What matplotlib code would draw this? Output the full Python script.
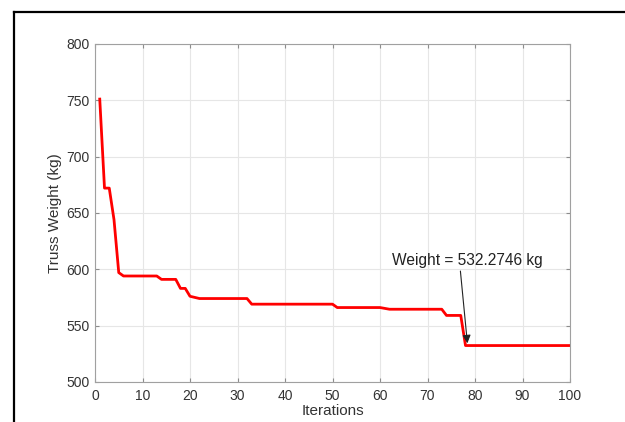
import matplotlib
matplotlib.use("Agg")
import matplotlib.pyplot as plt
from matplotlib.lines import Line2D

plt.rcParams['font.family'] = ['Liberation Sans', 'DejaVu Sans']

# convergence history
iters = [1, 2, 3, 4, 5, 6, 13, 14, 17, 18, 19, 20, 22, 32, 33, 50, 51, 60, 62, 73, 74, 77, 78, 100]
weight = [751, 672, 672, 644, 597, 594, 594, 591, 591, 583, 583, 576, 574, 574, 569, 569, 566, 566, 564.5,
          564.5, 559, 559, 532.2746, 532.2746]

best_iter = 78.4
best_w = 532.2746
label = "Weight = 532.2746 kg"

fig = plt.figure(figsize=(6.25, 4.22), dpi=100)
ax = fig.add_axes([0.152, 0.095, 0.76, 0.801])

ax.plot(iters, weight, color='#ff0000', lw=2.0)

ax.set_xlim(0, 100)
ax.set_ylim(500, 800)
ax.set_xticks(range(0, 101, 10))
ax.set_yticks(range(500, 801, 50))
ax.grid(True, color='#e6e6e6', lw=0.8)
ax.set_axisbelow(True)
for s in ax.spines.values():
    s.set_color('#a0a0a0')
    s.set_linewidth(0.8)
ax.tick_params(direction='in', length=3, color='#8c8c8c', labelsize=10, labelcolor='#333333',
               top=True, right=True)
ax.tick_params(axis='x', pad=5)
ax.tick_params(axis='y', pad=4)
ax.set_xlabel('Iterations', fontsize=11, color='#333333', labelpad=1)
ax.set_ylabel('Truss Weight (kg)', fontsize=11, color='#333333', labelpad=3)

ax.annotate(label, xy=(best_iter, best_w + 2), xytext=(62.6, 607.5),
            fontsize=11.2, color='#222222', va='center', ha='left',
            arrowprops=dict(arrowstyle='-|>', color='#222222', lw=0.8,
                            mutation_scale=12, shrinkA=0, shrinkB=0,
                            relpos=(0.45, 0.0)))

# outer frame (top and left edges visible)
fig.add_artist(Line2D([0.0224, 0.0224], [0.0, 0.972], color='black', lw=1.6, transform=fig.transFigure))
fig.add_artist(Line2D([0.0224, 1.0], [0.972, 0.972], color='black', lw=1.6, transform=fig.transFigure))

fig.savefig('out.png', dpi=100)
